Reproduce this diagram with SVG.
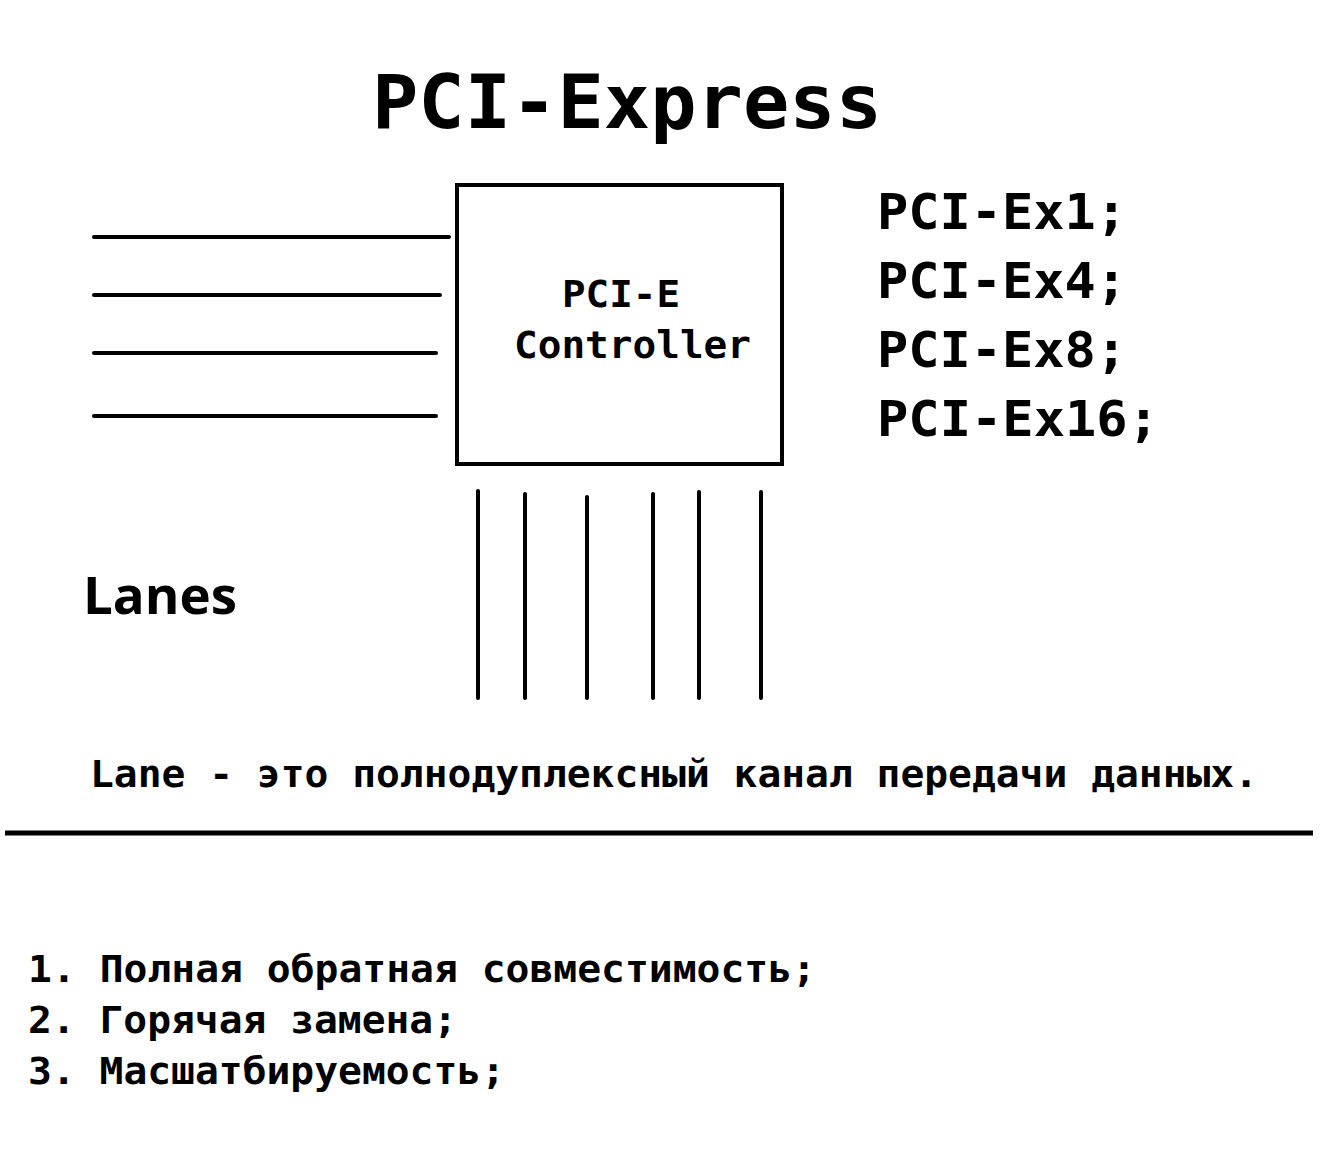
<svg xmlns="http://www.w3.org/2000/svg" width="1328" height="1156" viewBox="0 0 1328 1156">
<style>
.t{font-family:"DejaVu Sans Mono","Liberation Mono",monospace;font-weight:bold;fill:#000}
.s{font-family:"Open Sans","Liberation Sans",sans-serif;font-weight:bold;fill:#000}
.ln{stroke:#000;stroke-width:4;stroke-linecap:round;fill:none}
</style>
<rect width="1328" height="1156" fill="#fff"/>
<text class="t" x="372" y="128" font-size="75" textLength="510" lengthAdjust="spacingAndGlyphs">PCI-Express</text>
<g id="controller">
<rect x="457" y="185" width="325" height="279" fill="#fff" stroke="#000" stroke-width="4"/>
<text class="t" x="562" y="307" font-size="37" textLength="118" lengthAdjust="spacingAndGlyphs">PCI-E</text>
<text class="t" x="514" y="358" font-size="37" textLength="237" lengthAdjust="spacingAndGlyphs">Controller</text>
</g>
<g id="connectors">
<line class="ln" x1="94" y1="237" x2="449" y2="237"/>
<line class="ln" x1="94" y1="295" x2="440" y2="295"/>
<line class="ln" x1="94" y1="353" x2="436" y2="353"/>
<line class="ln" x1="94" y1="416" x2="436" y2="416"/>
<line class="ln" x1="478" y1="491" x2="478" y2="698"/>
<line class="ln" x1="525" y1="494" x2="525" y2="698"/>
<line class="ln" x1="587" y1="497" x2="587" y2="698"/>
<line class="ln" x1="653" y1="494" x2="653" y2="698"/>
<line class="ln" x1="699" y1="492" x2="699" y2="698"/>
<line class="ln" x1="761" y1="492" x2="761" y2="698"/>
</g>
<g id="variants">
<text class="t" x="877" y="229" font-size="50" textLength="250" lengthAdjust="spacingAndGlyphs">PCI-Ex1;</text>
<text class="t" x="877" y="298" font-size="50" textLength="250" lengthAdjust="spacingAndGlyphs">PCI-Ex4;</text>
<text class="t" x="877" y="367" font-size="50" textLength="250" lengthAdjust="spacingAndGlyphs">PCI-Ex8;</text>
<text class="t" x="877" y="436" font-size="50" textLength="282" lengthAdjust="spacingAndGlyphs">PCI-Ex16;</text>
</g>
<text class="s" x="83" y="614" font-size="52" textLength="154" lengthAdjust="spacingAndGlyphs">Lanes</text>
<text class="t" x="90" y="787" font-size="37" textLength="1168" lengthAdjust="spacingAndGlyphs">Lane - это полнодуплексный канал передачи данных.</text>
<line x1="5" y1="833" x2="1313" y2="833" stroke="#000" stroke-width="5"/>
<g id="features">
<text class="t" x="28" y="982" font-size="37" textLength="788" lengthAdjust="spacingAndGlyphs">1. Полная обратная совместимость;</text>
<text class="t" x="28" y="1033" font-size="37" textLength="429" lengthAdjust="spacingAndGlyphs">2. Горячая замена;</text>
<text class="t" x="28" y="1084" font-size="37" textLength="477" lengthAdjust="spacingAndGlyphs">3. Масшатбируемость;</text>
</g>
</svg>
